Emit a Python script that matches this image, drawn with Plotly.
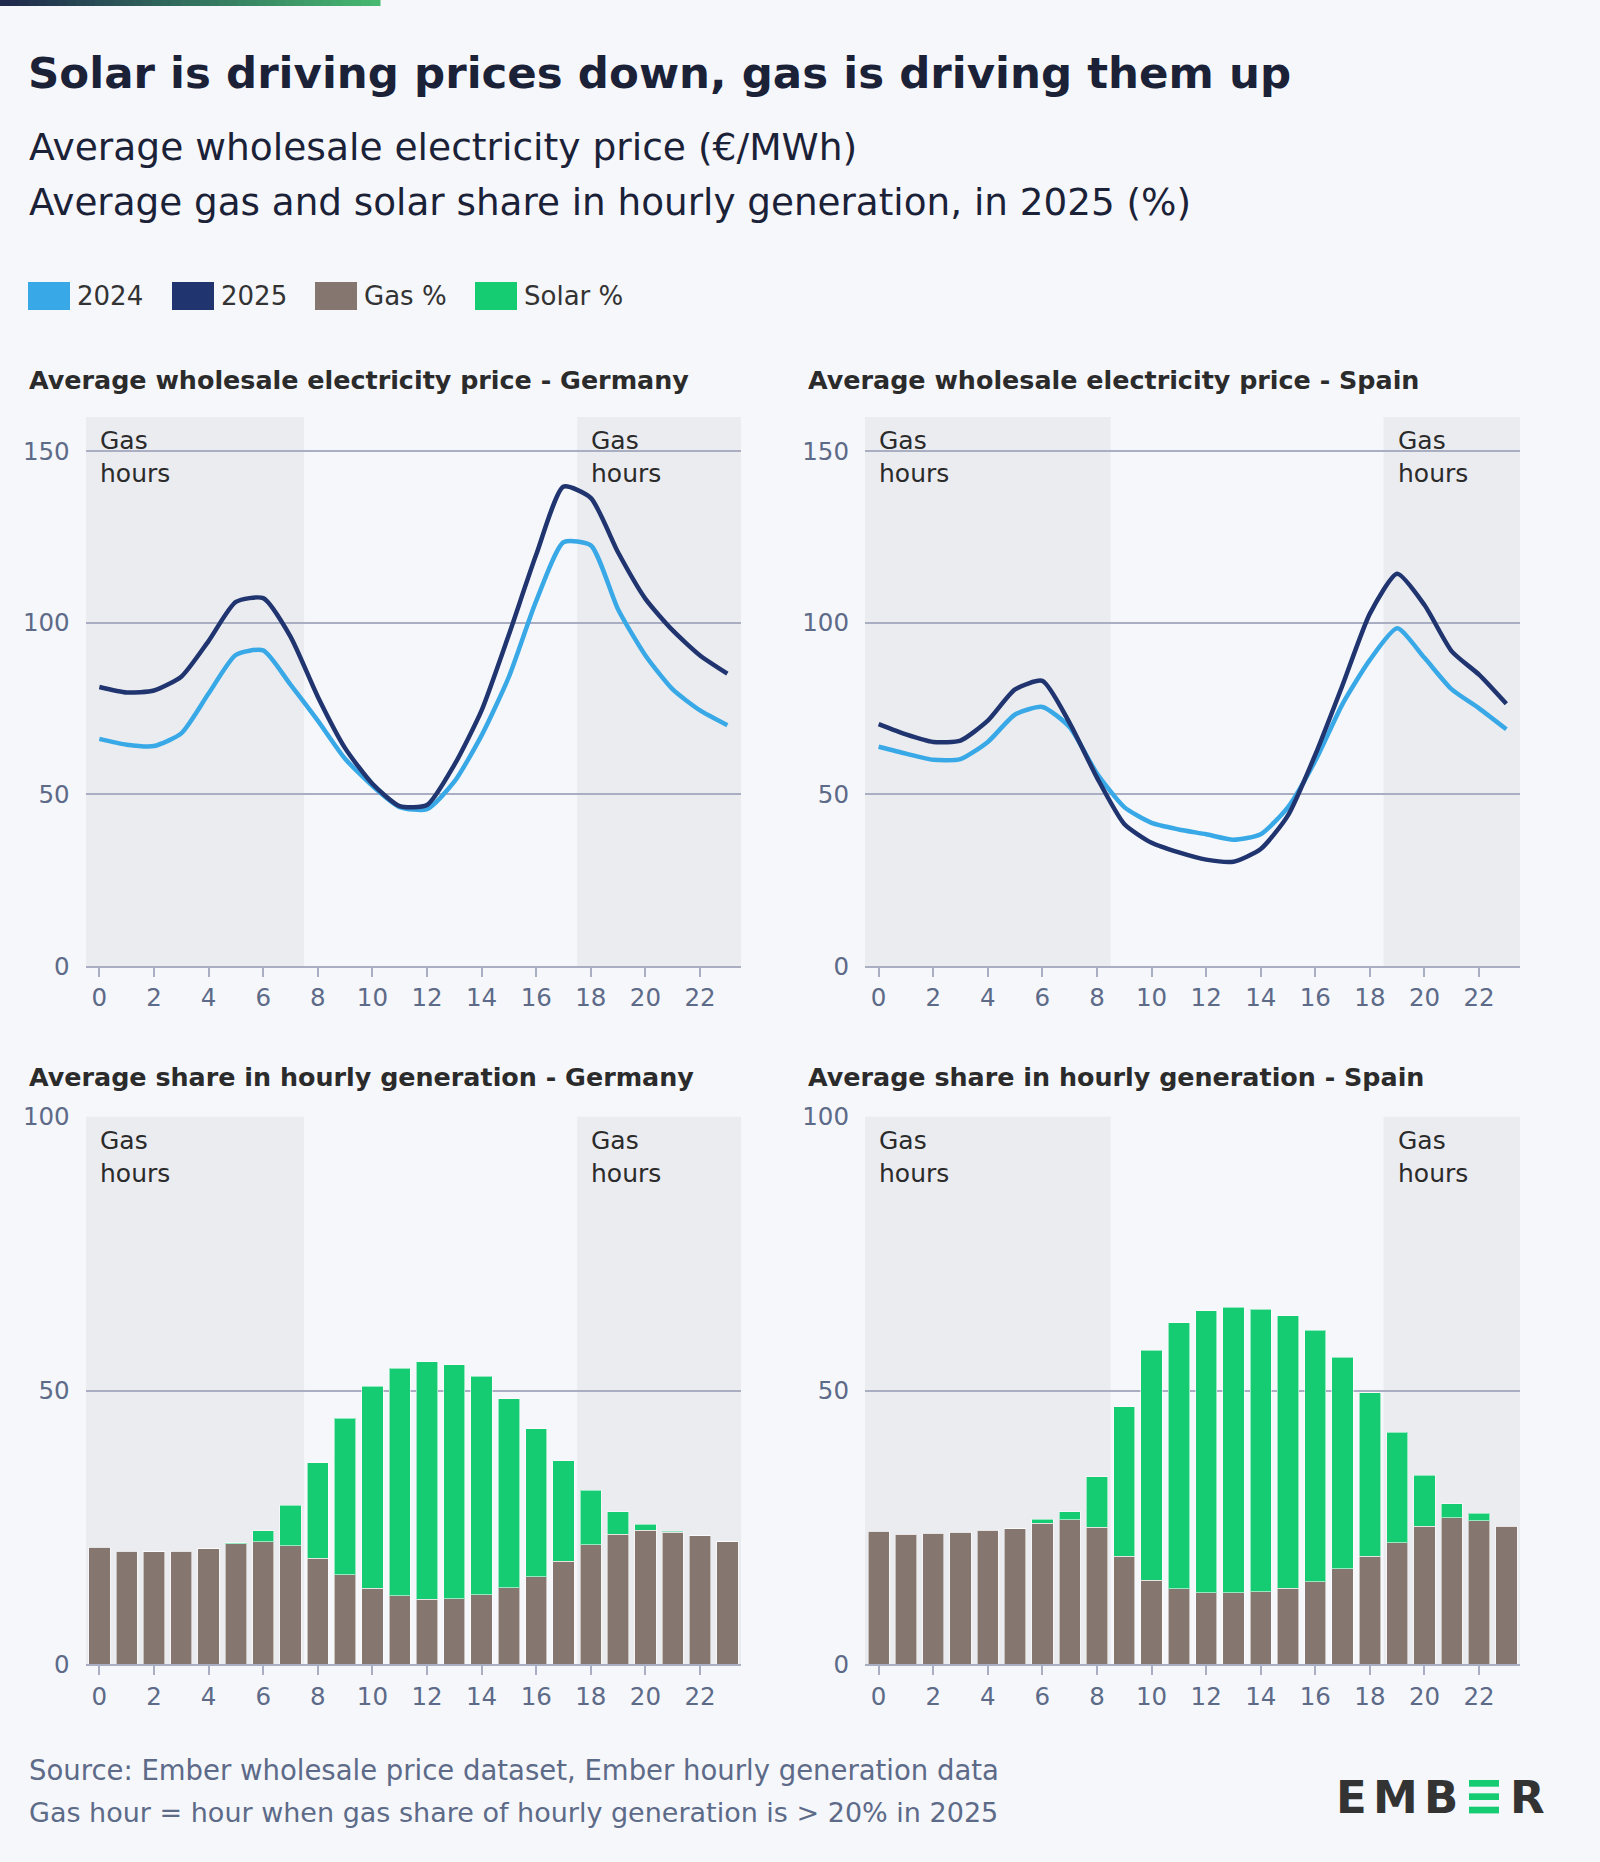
import plotly.graph_objects as go

W, H = 1600, 1862

hours = list(range(24))

# Prices (EUR/MWh)
de_2024 = [66.2, 64.5, 64.1, 67.8, 79.4, 90.7, 92.0, 82.0, 71.5, 60.4, 52.5, 46.3,
           45.7, 53.7, 67.2, 84.3, 106.4, 123.5, 122.6, 103.9, 90.5, 80.6, 74.5, 70.2]
de_2025 = [81.3, 79.7, 80.3, 84.3, 94.7, 106.1, 107.2, 96.0, 78.5, 63.5, 53.1, 46.6,
           46.9, 58.6, 74.5, 96.6, 119.9, 139.7, 136.4, 120.5, 107.0, 97.8, 90.5, 85.2]
es_2024 = [63.9, 61.9, 60.1, 60.3, 65.3, 73.3, 75.5, 69.6, 56.1, 46.3, 41.7, 39.8,
           38.4, 36.8, 38.4, 46.3, 59.8, 76.4, 89.2, 98.4, 89.8, 80.6, 75.1, 69.0]
es_2025 = [70.5, 67.5, 65.3, 65.7, 71.5, 80.6, 83.1, 70.8, 54.9, 41.4, 35.9, 33.1,
           31.0, 30.4, 34.1, 43.9, 61.6, 81.9, 102.7, 114.3, 105.2, 91.7, 84.9, 76.4]

# Shares in hourly generation, 2025 (%)
de_gas = [21.4, 20.7, 20.6, 20.7, 21.1, 22.0, 22.4, 21.7, 19.4, 16.4, 13.9, 12.5,
          11.9, 12.0, 12.7, 14.0, 16.0, 18.8, 21.8, 23.8, 24.5, 24.1, 23.5, 22.4]
de_solar = [0, 0, 0, 0, 0, 0.2, 2.0, 7.4, 17.4, 28.5, 36.9, 41.6,
            43.4, 42.7, 39.9, 34.5, 27.0, 18.4, 10.0, 4.1, 1.1, 0.2, 0, 0]
es_gas = [24.3, 23.8, 23.9, 24.1, 24.5, 24.8, 25.8, 26.4, 25.0, 19.7, 15.4, 13.8,
          13.1, 13.1, 13.3, 13.9, 15.1, 17.5, 19.7, 22.2, 25.2, 26.8, 26.2, 25.2]
es_solar = [0, 0, 0, 0, 0, 0, 0.7, 1.5, 9.3, 27.3, 42.0, 48.6,
            51.5, 52.1, 51.5, 49.8, 45.9, 38.6, 29.9, 20.2, 9.3, 2.5, 1.4, 0]

# Gas hours (share of gas > 20%) as shaded ranges
de_gas_ranges = [(-0.5, 7.5), (17.5, 23.5)]
es_gas_ranges = [(-0.5, 8.5), (18.5, 23.5)]

x_ticks = list(range(0, 24, 2))
price_ticks = [0, 50, 100, 150]
share_ticks = [0, 50, 100]

chart_titles = ["Average wholesale electricity price - Germany",
                "Average wholesale electricity price - Spain",
                "Average share in hourly generation - Germany",
                "Average share in hourly generation - Spain"]

legend_labels = ["2024", "2025", "Gas %", "Solar %"]

C_2024, C_2025, C_GAS, C_SOLAR = "#38a9e6", "#20346f", "#85766f", "#16cc73"
legend_colors = [C_2024, C_2025, C_GAS, C_SOLAR]
BG = "#f5f7fb"
SHADE = "#ebecf0"
GRID = "#a9aec2"
TICK = "#5d6a88"
DARK = "#1b2238"
TXT = "#2b2b2b"
FONT = "DejaVu Sans"


def px(x):
    return x / W


def py(y):
    return 1 - y / H


fig = go.Figure()

# Price lines
for axis, y24, y25 in [("", de_2024, de_2025), ("2", es_2024, es_2025)]:
    fig.add_trace(go.Scatter(x=hours, y=y24, mode="lines", name="2024",
                             line=dict(color=C_2024, width=4.5, shape="spline", smoothing=0.6),
                             xaxis="x" + axis, yaxis="y" + axis, showlegend=False))
    fig.add_trace(go.Scatter(x=hours, y=y25, mode="lines", name="2025",
                             line=dict(color=C_2025, width=4.5, shape="spline", smoothing=0.6),
                             xaxis="x" + axis, yaxis="y" + axis, showlegend=False))

# Share bars
for axis, gas, solar in [("3", de_gas, de_solar), ("4", es_gas, es_solar)]:
    fig.add_trace(go.Bar(x=hours, y=gas, name="Gas %", width=0.78,
                         marker=dict(color=C_GAS, line=dict(color="rgba(255,255,255,0.55)", width=1)),
                         xaxis="x" + axis, yaxis="y" + axis, showlegend=False))
    fig.add_trace(go.Bar(x=hours, y=solar, name="Solar %", width=0.78,
                         marker=dict(color=C_SOLAR, line=dict(color="rgba(255,255,255,0.55)", width=1)),
                         xaxis="x" + axis, yaxis="y" + axis, showlegend=False))

# Layout geometry (pixels)
x_left = (85.7, 741.0)
x_right = (865.0, 1520.0)
y_top = (417.0, 966.0)
y_bot = (1116.7, 1664.4)

layout = dict(
    width=W, height=H,
    margin=dict(l=0, r=0, t=0, b=0, autoexpand=False),
    paper_bgcolor=BG, plot_bgcolor="rgba(0,0,0,0)",
    barmode="stack", bargap=0.22,
    showlegend=False,
    font=dict(family=FONT, color=TXT),
)

specs = [("", x_left, y_top, price_ticks, [0, 160], de_gas_ranges),
         ("2", x_right, y_top, price_ticks, [0, 160], es_gas_ranges),
         ("3", x_left, y_bot, share_ticks, [0, 100], de_gas_ranges),
         ("4", x_right, y_bot, share_ticks, [0, 100], es_gas_ranges)]

shapes = []
annotations = []

for (ax, xd, yd, yt, yr, ranges), title in zip(specs, chart_titles):
    xname = "xaxis" + ax
    yname = "yaxis" + ax
    layout[xname] = dict(domain=[px(xd[0]), px(xd[1])], range=[-0.5, 23.5],
                         tickvals=x_ticks, ticks="outside", ticklen=9, tickwidth=2,
                         tickcolor=GRID, showgrid=False, anchor="y" + ax,
                         showline=True, linecolor=GRID, linewidth=2, zeroline=False,
                         automargin=False,
                         tickfont=dict(family=FONT, size=24.5, color=TICK))
    layout[yname] = dict(domain=[py(yd[1]), py(yd[0])], range=yr,
                         tickvals=yt, showgrid=True, gridcolor=GRID, gridwidth=2,
                         ticks="", showline=False, zeroline=False, anchor="x" + ax,
                         ticklabelstandoff=15, automargin=False,
                         tickfont=dict(family=FONT, size=24.5, color=TICK))
    xr = "x" + ax
    yref_dom = "y" + ax + " domain"
    for a, b in ranges:
        shapes.append(dict(type="rect", xref=xr, yref=yref_dom, x0=a, x1=b, y0=0, y1=1,
                           fillcolor=SHADE, line=dict(width=0), layer="below"))
        annotations.append(dict(xref=xr, yref=yref_dom, x=a + 0.45, y=1 - 7 / (yd[1] - yd[0]),
                                text="Gas<br>hours", showarrow=False, xanchor="left",
                                yanchor="top", align="left",
                                font=dict(family=FONT, size=25, color=TXT)))
    title_x = 27 if xd[0] < 800 else 806
    title_y = 380 if yd[0] < 1000 else 1077
    annotations.append(dict(xref="paper", yref="paper", x=px(title_x), y=py(title_y),
                            text="<b>" + title + "</b>", showarrow=False,
                            xanchor="left", yanchor="middle",
                            font=dict(family=FONT, size=25.4, color=TXT)))

# Top gradient bar
nseg = 40
c0 = (0x1f, 0x2a, 0x4c)
c1 = (0x46, 0xb8, 0x70)
for i in range(nseg):
    t = i / (nseg - 1)
    col = "rgb(%d,%d,%d)" % tuple(int(c0[k] + (c1[k] - c0[k]) * t) for k in range(3))
    shapes.append(dict(type="rect", xref="paper", yref="paper",
                       x0=px(380 * i / nseg), x1=px(380 * (i + 1) / nseg + 0.5),
                       y0=py(6), y1=1, fillcolor=col, line=dict(width=0), layer="above"))

# Titles
annotations.append(dict(xref="paper", yref="paper", x=px(26), y=py(73),
                        text="<b>Solar is driving prices down, gas is driving them up</b>",
                        showarrow=False, xanchor="left", yanchor="middle",
                        font=dict(family=FONT, size=43.5, color=DARK)))
annotations.append(dict(xref="paper", yref="paper", x=px(27), y=py(147),
                        text="Average wholesale electricity price (€/MWh)",
                        showarrow=False, xanchor="left", yanchor="middle",
                        font=dict(family=FONT, size=37.6, color=DARK)))
annotations.append(dict(xref="paper", yref="paper", x=px(27), y=py(202),
                        text="Average gas and solar share in hourly generation, in 2025 (%)",
                        showarrow=False, xanchor="left", yanchor="middle",
                        font=dict(family=FONT, size=37.3, color=DARK)))

# Legend (manual)
leg_x = [28, 172, 315, 475]
for lab, col, lx in zip(legend_labels, legend_colors, leg_x):
    shapes.append(dict(type="rect", xref="paper", yref="paper",
                       x0=px(lx), x1=px(lx + 42), y0=py(310), y1=py(282),
                       fillcolor=col, line=dict(width=0)))
    annotations.append(dict(xref="paper", yref="paper", x=px(lx + 47), y=py(296),
                            text=lab, showarrow=False, xanchor="left", yanchor="middle",
                            font=dict(family=FONT, size=26, color="#333333")))

# Footer
annotations.append(dict(xref="paper", yref="paper", x=px(27), y=py(1770),
                        text="Source: Ember wholesale price dataset, Ember hourly generation data",
                        showarrow=False, xanchor="left", yanchor="middle",
                        font=dict(family=FONT, size=27.5, color=TICK)))
annotations.append(dict(xref="paper", yref="paper", x=px(27), y=py(1812),
                        text="Gas hour = hour when gas share of hourly generation is > 20% in 2025",
                        showarrow=False, xanchor="left", yanchor="middle",
                        font=dict(family=FONT, size=27.0, color=TICK)))

# EMBER logo
for letter, cx in [("E", 1351), ("M", 1395), ("B", 1441), ("R", 1527)]:
    annotations.append(dict(xref="paper", yref="paper", x=px(cx), y=py(1797),
                            text="<b>" + letter + "</b>", showarrow=False,
                            xanchor="center", yanchor="middle",
                            font=dict(family="DejaVu Sans", size=45, color="#333333")))
for y0 in [1780, 1793.3, 1806.7]:
    shapes.append(dict(type="rect", xref="paper", yref="paper",
                       x0=px(1469), x1=px(1499), y0=py(y0 + 6.7), y1=py(y0),
                       fillcolor=C_SOLAR, line=dict(width=0)))

layout["shapes"] = shapes
layout["annotations"] = annotations
fig.update_layout(**layout)

post = (
    "document.documentElement.style.margin='0';"
    "document.documentElement.style.background='" + BG + "';"
    "document.body.style.margin='0';"
    "document.body.style.background='" + BG + "';"
    "document.body.style.overflow='hidden';"
)

fig.write_html("out.html", config={"displayModeBar": False}, post_script=post)
